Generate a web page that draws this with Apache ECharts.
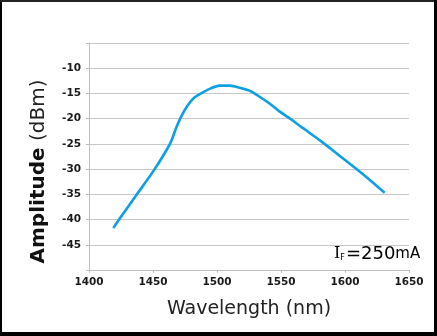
<!DOCTYPE html>
<html>
<head>
<meta charset="utf-8">
<script src="https://cdn.jsdelivr.net/npm/echarts@6/dist/echarts.min.js"></script>
<style>
html,body{margin:0;padding:0;background:#fff;}
#c{width:437px;height:336px;}
</style>
</head>
<body>
<div id="c"></div>
<script>
// Wavelength (nm)
const wavelength = [1419, 1424, 1438, 1450, 1459, 1464, 1468, 1472, 1477, 1482, 1489, 1495, 1502, 1510, 1517, 1525, 1533, 1541, 1548, 1556, 1564, 1569, 1582, 1595, 1608, 1621, 1631];
// Amplitude (dBm)
const amplitude = [-41.7, -39.8, -34.8, -30.5, -26.9, -24.6, -21.9, -19.6, -17.4, -15.9, -14.8, -14.0, -13.45, -13.45, -13.8, -14.4, -15.6, -17.0, -18.4, -19.8, -21.3, -22.2, -24.6, -27.2, -29.8, -32.5, -34.7];
const xTicks = [1400, 1450, 1500, 1550, 1600, 1650];
const yTicks = [-10, -15, -20, -25, -30, -35, -40, -45];
const xTitle = 'Wavelength (nm)';
const yTitleMain = 'Amplitude';
const yTitleUnit = '(dBm)';
const noteCurrent = '250';

const chart = echarts.init(document.getElementById('c'), null, {renderer: 'canvas'});
const seriesData = wavelength.map((w, i) => [w, amplitude[i]]);

chart.setOption({
  animation: false,
  backgroundColor: '#fff',
  grid: {left: 89, right: 28, top: 43, bottom: 66, containLabel: false},
  xAxis: {
    type: 'value',
    min: xTicks[0], max: xTicks[xTicks.length - 1], interval: 50,
    name: xTitle,
    nameLocation: 'middle',
    nameGap: 30,
    nameTextStyle: {fontFamily: 'DejaVu Sans', fontSize: 19, color: '#222'},
    axisLine: {show: true, lineStyle: {color: '#bdbdbd', width: 1}},
    axisTick: {show: true, length: 3, lineStyle: {color: '#bdbdbd'}},
    axisLabel: {fontFamily: 'DejaVu Sans', fontWeight: 'bold', fontSize: 10.5, color: '#1a1a1a', margin: 7,
      formatter: v => String(v)},
    splitLine: {show: false}
  },
  yAxis: {
    type: 'value',
    min: -50, max: -5, interval: 5,
    name: '{a|' + yTitleMain + '}{b| ' + yTitleUnit + '}',
    nameLocation: 'middle',
    nameGap: 40,
    nameTextStyle: {
      padding: [0, 30, 0, 0],
      rich: {
        a: {fontFamily: 'DejaVu Sans', fontWeight: 'bold', fontSize: 20, color: '#111'},
        b: {fontFamily: 'DejaVu Sans', fontSize: 20, color: '#222'}
      }
    },
    axisLine: {show: true, lineStyle: {color: '#bdbdbd', width: 1}},
    axisTick: {show: true, length: 3, lineStyle: {color: '#bdbdbd'}},
    axisLabel: {
      fontFamily: 'DejaVu Sans', fontWeight: 'bold', fontSize: 10.5, color: '#1a1a1a', margin: 8,
      formatter: v => (yTicks.indexOf(v) >= 0 ? String(v) : '')
    },
    splitLine: {show: true, lineStyle: {color: '#c8c8c8', width: 1}}
  },
  series: [{
    type: 'line',
    data: seriesData,
    smooth: 0.25,
    symbol: 'none',
    lineStyle: {color: '#0b9fe3', width: 2.6},
    clip: false
  }],
  graphic: [
    {type: 'text', left: 334, top: 245, style: {
      text: '{i|I}{f|F}{e|=' + noteCurrent + '}{m|mA}',
      rich: {
        i: {fontFamily: 'DejaVu Serif', fontSize: 16, color: '#444'},
        f: {fontFamily: 'DejaVu Sans', fontSize: 8, color: '#999', padding: [8, 1, 0, 0]},
        e: {fontFamily: 'DejaVu Sans', fontSize: 18, color: '#1b1f55'},
        m: {fontFamily: 'DejaVu Sans', fontSize: 15, color: '#333'}
      }
    }},
    {type: 'rect', shape: {x: 0, y: 0, width: 2, height: 336}, style: {fill: '#000'}},
    {type: 'rect', shape: {x: 0, y: 0, width: 437, height: 2}, style: {fill: '#222'}},
    {type: 'rect', shape: {x: 434, y: 0, width: 3, height: 336}, style: {fill: '#000'}},
    {type: 'rect', shape: {x: 0, y: 332, width: 437, height: 4}, style: {fill: '#000'}}
  ]
});
</script>
</body>
</html>
